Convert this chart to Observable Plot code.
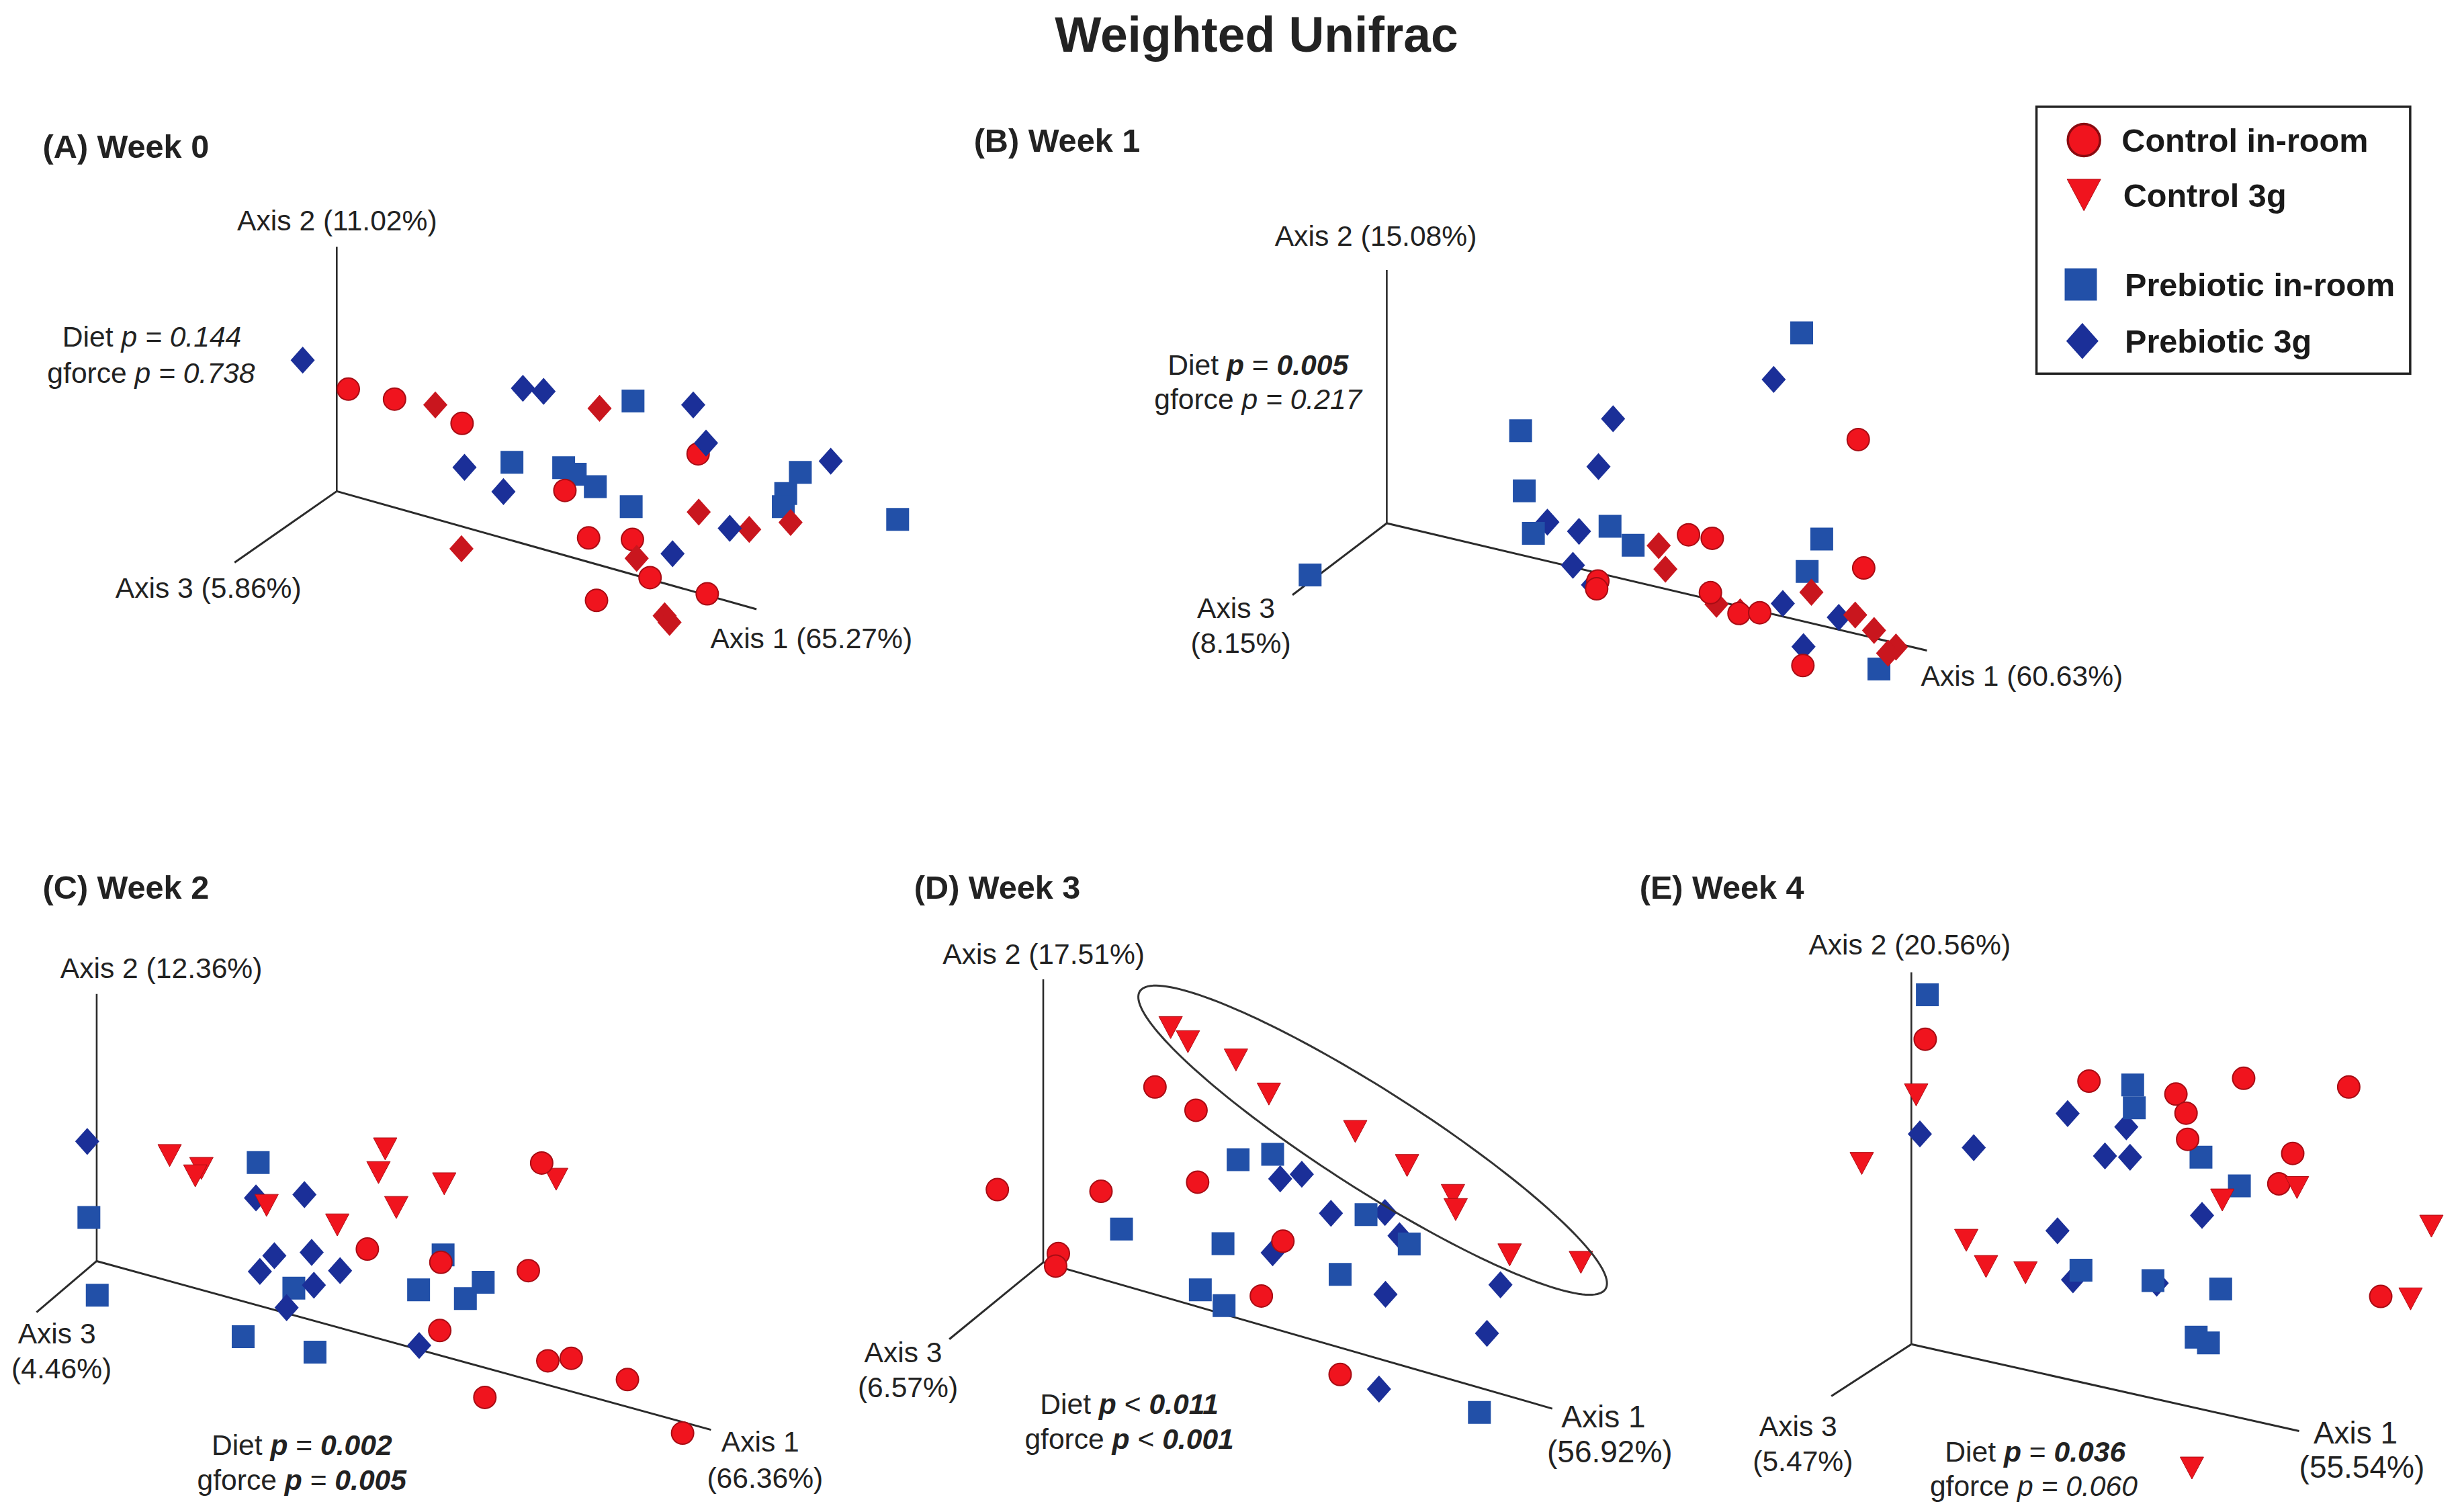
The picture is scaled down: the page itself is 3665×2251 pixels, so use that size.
<!DOCTYPE html>
<html><head><meta charset="utf-8">
<style>html,body{margin:0;padding:0;background:#fff}svg{display:block}</style>
<script src="https://cdn.jsdelivr.net/npm/d3@7"></script>
<script src="https://cdn.jsdelivr.net/npm/@observablehq/plot@0.6"></script>
</head><body><div id="chart"></div>
<script>
// Points, per week, per group: [x, y] in each panel's own reading frame
const A_circle=[[572,747],[648,773],[759,836],[1147,915],[928,1010],[967,1133],[1039,1137],[1068,1236],[1162,1278],[980,1295]];
const A_redDiamond=[[715,788],[985,797],[1148,1066],[758,1161],[1046,1186],[1231,1111],[1299,1093],[1092,1335],[1100,1352]];
const A_blueDiamond=[[497,672],[859,745],[893,753],[1139,788],[1160,887],[763,950],[827,1013],[1365,934],[1199,1108],[1105,1174]];
const A_square=[[1040,778],[841,937],[926,951],[945,968],[978,1000],[1037,1052],[1315,963],[1291,1018],[1287,1052],[1475,1085]];

const B_square=[[1393,601],[931,855],[937,1011],[952,1121],[1078,1103],[1116,1152],[1426,1136],[1402,1220],[585,1229],[1520,1473]];
const B_blueDiamond=[[1347,722],[1083,824],[1059,948],[975,1092],[1027,1116],[1017,1204],[1396,1415],[1362,1303],[1454,1339],[1050,1255]];
const B_circle=[[1486,878],[1207,1125],[1246,1134],[1495,1211],[1058,1245],[1056,1265],[1243,1275],[1290,1329],[1324,1327],[1395,1464]];
const B_redDiamond=[[1158,1153],[1169,1214],[1409,1274],[1253,1305],[1292,1325],[1481,1333],[1512,1373],[1548,1416],[1535,1432]];

const C_blueDiamond=[[156,677],[459,813],[546,805],[492,952],[559,944],[466,990],[610,988],[563,1023],[514,1077],[752,1168]];
const C_square=[[463,728],[159,860],[795,950],[527,1030],[174,1047],[751,1034],[867,1016],[835,1055],[436,1147],[565,1184]];
const C_triangle=[[304,711],[361,742],[350,760],[478,831],[691,695],[679,752],[797,779],[711,836],[605,878],[998,768]];
const C_circle=[[972,729],[659,936],[791,968],[948,988],[789,1132],[983,1205],[1025,1199],[1126,1250],[870,1293],[1225,1379]];

const D_square=[[725,721],[789,708],[509,888],[697,923],[962,853],[1042,924],[914,997],[655,1034],[699,1072],[1172,1329]];
const D_blueDiamond=[[803,767],[843,756],[897,850],[997,848],[1024,904],[789,945],[998,1045],[1211,1022],[1186,1139],[986,1273]];
const D_circle=[[571,546],[647,602],[650,775],[279,793],[471,797],[808,917],[392,947],[387,977],[768,1049],[914,1238]];
const D_triangle=[[600,403],[632,437],[721,481],[782,563],[942,653],[1038,735],[1123,807],[1128,841],[1228,950],[1360,968]];

const E_square=[[565,324],[950,541],[953,596],[1078,715],[1150,784],[853,987],[988,1012],[1115,1032],[1069,1148],[1092,1162]];
const E_circle=[[561,431],[868,532],[1031,563],[1158,525],[1355,546],[1050,609],[1053,672],[1250,706],[1224,779],[1415,1050]];
const E_triangle=[[544,565],[442,730],[1118,818],[1258,788],[638,915],[675,978],[749,993],[1510,881],[1471,1056],[1061,1463]];
const E_blueDiamond=[[551,659],[652,692],[828,610],[938,642],[898,712],[945,715],[1080,855],[809,892],[838,1010],[995,1018]];

// Axis frame of each panel: origin, end of axis 2, end of axis 3, end of axis 1
const A_axes=[[553,1012],[553,378],[385,1197],[1243,1318]];
const B_axes=[[711,1095],[711,438],[556,1281],[1599,1425]];
const C_axes=[[173,965],[173,322],[65,1088],[1276,1371]];
const D_axes=[[364,968],[364,287],[190,1153],[1307,1320]];
const E_axes=[[535,1165],[535,270],[385,1290],[1262,1374]];

const mainTitle="Weighted Unifrac";
// [text, x, y, size]; *x* italic, **x** bold italic
const panelTitles=[["(A) Week 0",27,93],["(B) Week 1",620,89],["(C) Week 2",27,565],["(D) Week 3",582,565],["(E) Week 4",1044,565]];
const axisLabels=[
 ["Axis 2 (11.02%)",214.5,140,42.6],["Axis 3 (5.86%)",132.5,374,42.6],["Axis 1 (65.27%)",516.5,406,42.6],
 ["Axis 2 (15.08%)",876,150,42.6],["Axis 3",787,387,42.6],["(8.15%)",790,409,42.6],["Axis 1 (60.63%)",1287.5,430,42.6],
 ["Axis 2 (12.36%)",102.5,616,42.6],["Axis 3",36,849,42.6],["(4.46%)",39,871,42.6],["Axis 1",484,918,42.6],["(66.36%)",487,941,42.6],
 ["Axis 2 (17.51%)",664.5,607,42.6],["Axis 3",575,861,42.6],["(6.57%)",578,883,42.6],["Axis 1",1021,902,46],["(56.92%)",1025,924,46],
 ["Axis 2 (20.56%)",1216,601,42.6],["Axis 3",1145,908,42.6],["(5.47%)",1148,930,42.6],["Axis 1",1500,912,46],["(55.54%)",1504,934,46]];
const stats=[
 ["Diet *p = 0.144*",96.5,214],["gforce *p = 0.738*",96,237],
 ["Diet **p** = **0.005**",801,232],["gforce *p = 0.217*",801,254],
 ["Diet **p** = **0.002**",192,920],["gforce **p** = **0.005**",192,942],
 ["Diet **p** < **0.011**",719,894],["gforce **p** < **0.001**",719,916],
 ["Diet **p** = **0.036**",1296,924],["gforce *p = 0.060*",1295,946]];
const legendNames=["Control in-room","Control 3g","Prebiotic in-room","Prebiotic 3g"];
const legendKinds=["circle","triangle","square","blueDiamond"];
const legendSymbolX=[1327,1327,1325,1326];
const legendTextX=[1351,1352,1353,1353];
const legendY=[89,124,181,217];

// --- frames and drawing ---
const W=3665,H=2251,U=W/1568,HU=H/U;
const frames={A:[0,150,1420,900],B:[1420,150,1420,900],C:[0,1280,1300,970],D:[1260,1280,1260,970],E:[2420,1280,1245,970]};
const toUnits=(f,[x,y])=>{const [x0,y0,w,h]=frames[f];return {x:(x0+x*w/1568)/U,y:(y0+y*h/1568)/U};};

const sym=(points)=>({draw(c,size){const r=Math.sqrt(size/Math.PI);points.forEach(([a,b],i)=>i?c.lineTo(a*r,b*r):c.moveTo(a*r,b*r));c.closePath();}});
const styles={
 circle:{symbol:"circle",r:16.5,fill:"#f0141e",stroke:"#a80c14",strokeWidth:2},
 square:{symbol:sym([[-1,-1],[1,-1],[1,1],[-1,1]]),r:17,fill:"#2250a8"},
 blueDiamond:{symbol:sym([[0,-1.12],[1,0],[0,1.12],[-1,0]]),r:18,fill:"#1b2f98"},
 redDiamond:{symbol:sym([[0,-1.12],[1,0],[0,1.12],[-1,0]]),r:18,fill:"#c9161e"},
 triangle:{symbol:sym([[-1,-0.94],[1,-0.94],[0,0.94]]),r:17.5,fill:"#f0141e",stroke:"#b00f16",strokeWidth:1}
};
const layers=[
 ["A",[["square",A_square],["circle",A_circle],["redDiamond",A_redDiamond],["blueDiamond",A_blueDiamond]],A_axes],
 ["B",[["blueDiamond",B_blueDiamond],["square",B_square],["redDiamond",B_redDiamond],["circle",B_circle]],B_axes],
 ["C",[["square",C_square],["blueDiamond",C_blueDiamond],["triangle",C_triangle],["circle",C_circle]],C_axes],
 ["D",[["blueDiamond",D_blueDiamond],["square",D_square],["triangle",D_triangle],["circle",D_circle]],D_axes],
 ["E",[["blueDiamond",E_blueDiamond],["square",E_square],["circle",E_circle],["triangle",E_triangle]],E_axes]
];
const font="Liberation Sans, Arial, sans-serif";
const marks=[];
for(const [f,groups,axes] of layers){
  const [o,a2,a3,a1]=axes.map(p=>toUnits(f,p));
  marks.push(Plot.link([[o,a2,2.6],[o,a3,3],[o,a1,3]],{x1:d=>d[0].x,y1:d=>d[0].y,x2:d=>d[1].x,y2:d=>d[1].y,stroke:"#2b2b2b",strokeWidth:d=>d[2]}));
  for(const [kind,pts] of groups) marks.push(Plot.dot(pts.map(p=>toUnits(f,p)),{x:"x",y:"y",...styles[kind]}));
}
// annotation ellipse round the Control 3g group in Week 3
const cx=874,cy=726,ra=176,rb=31.5,th=32.6*Math.PI/180;
const ellipse=d3.range(0,360,2).map(t=>{const u=ra*Math.cos(t*Math.PI/180),v=rb*Math.sin(t*Math.PI/180);
  return {x:cx+u*Math.cos(th)-v*Math.sin(th),y:cy+u*Math.sin(th)+v*Math.cos(th)};});
marks.push(Plot.line(ellipse,{x:"x",y:"y",curve:"linear-closed",stroke:"#333",strokeWidth:3,fill:"none"}));

const txt=(rows,o)=>Plot.text(rows,{x:d=>d[1],y:d=>d[2]+0.7,text:d=>d[0],fill:"#222",fontFamily:font,lineAnchor:"middle",...o});
marks.push(txt([[mainTitle,800,22]],{fontSize:73.2,fontWeight:"bold",textAnchor:"middle"}));
marks.push(txt(panelTitles,{fontSize:48.6,fontWeight:"bold",textAnchor:"start"}));
marks.push(txt(axisLabels,{fontSize:d=>d[3],textAnchor:"middle"}));
marks.push(txt(stats,{fontSize:42.6,textAnchor:"middle"}));
// legend
marks.push(Plot.rect([{x1:1297,x2:1535,y1:68,y2:238}],{x1:"x1",x2:"x2",y1:"y1",y2:"y2",fill:"none",stroke:"#222",strokeWidth:3.5}));
legendNames.forEach((n,i)=>{const s=styles[legendKinds[i]];
  marks.push(Plot.dot([{x:legendSymbolX[i],y:legendY[i]}],{x:"x",y:"y",...s,r:i==1?25:24,...(i==0?{stroke:"#8a0a10",strokeWidth:3.5}:{})}));});
marks.push(txt(legendNames.map((n,i)=>[n,legendTextX[i],legendY[i]]),{fontSize:48.6,fontWeight:"bold",textAnchor:"start",fill:"#1a1a1a"}));

const svg=Plot.plot({width:W,height:H,margin:0,style:{background:"#fff",fontFamily:font},
  x:{domain:[0,1568],range:[0,W],axis:null},y:{domain:[HU,0],range:[H,0],axis:null},marks});
// rich text: italic / bold italic spans in the p-value labels
svg.querySelectorAll("text").forEach(t=>{
  const s=t.textContent; if(!s.includes("*")) return;
  t.textContent="";
  s.split(/(\*\*[^*]+\*\*|\*[^*]+\*)/).filter(Boolean).forEach(part=>{
    const ts=document.createElementNS("http://www.w3.org/2000/svg","tspan");
    if(part.startsWith("**")){ts.textContent=part.slice(2,-2);ts.setAttribute("font-style","italic");ts.setAttribute("font-weight","bold");}
    else if(part.startsWith("*")){ts.textContent=part.slice(1,-1);ts.setAttribute("font-style","italic");}
    else ts.textContent=part;
    t.appendChild(ts);
  });
});
document.getElementById("chart").appendChild(svg);
</script></body></html>
